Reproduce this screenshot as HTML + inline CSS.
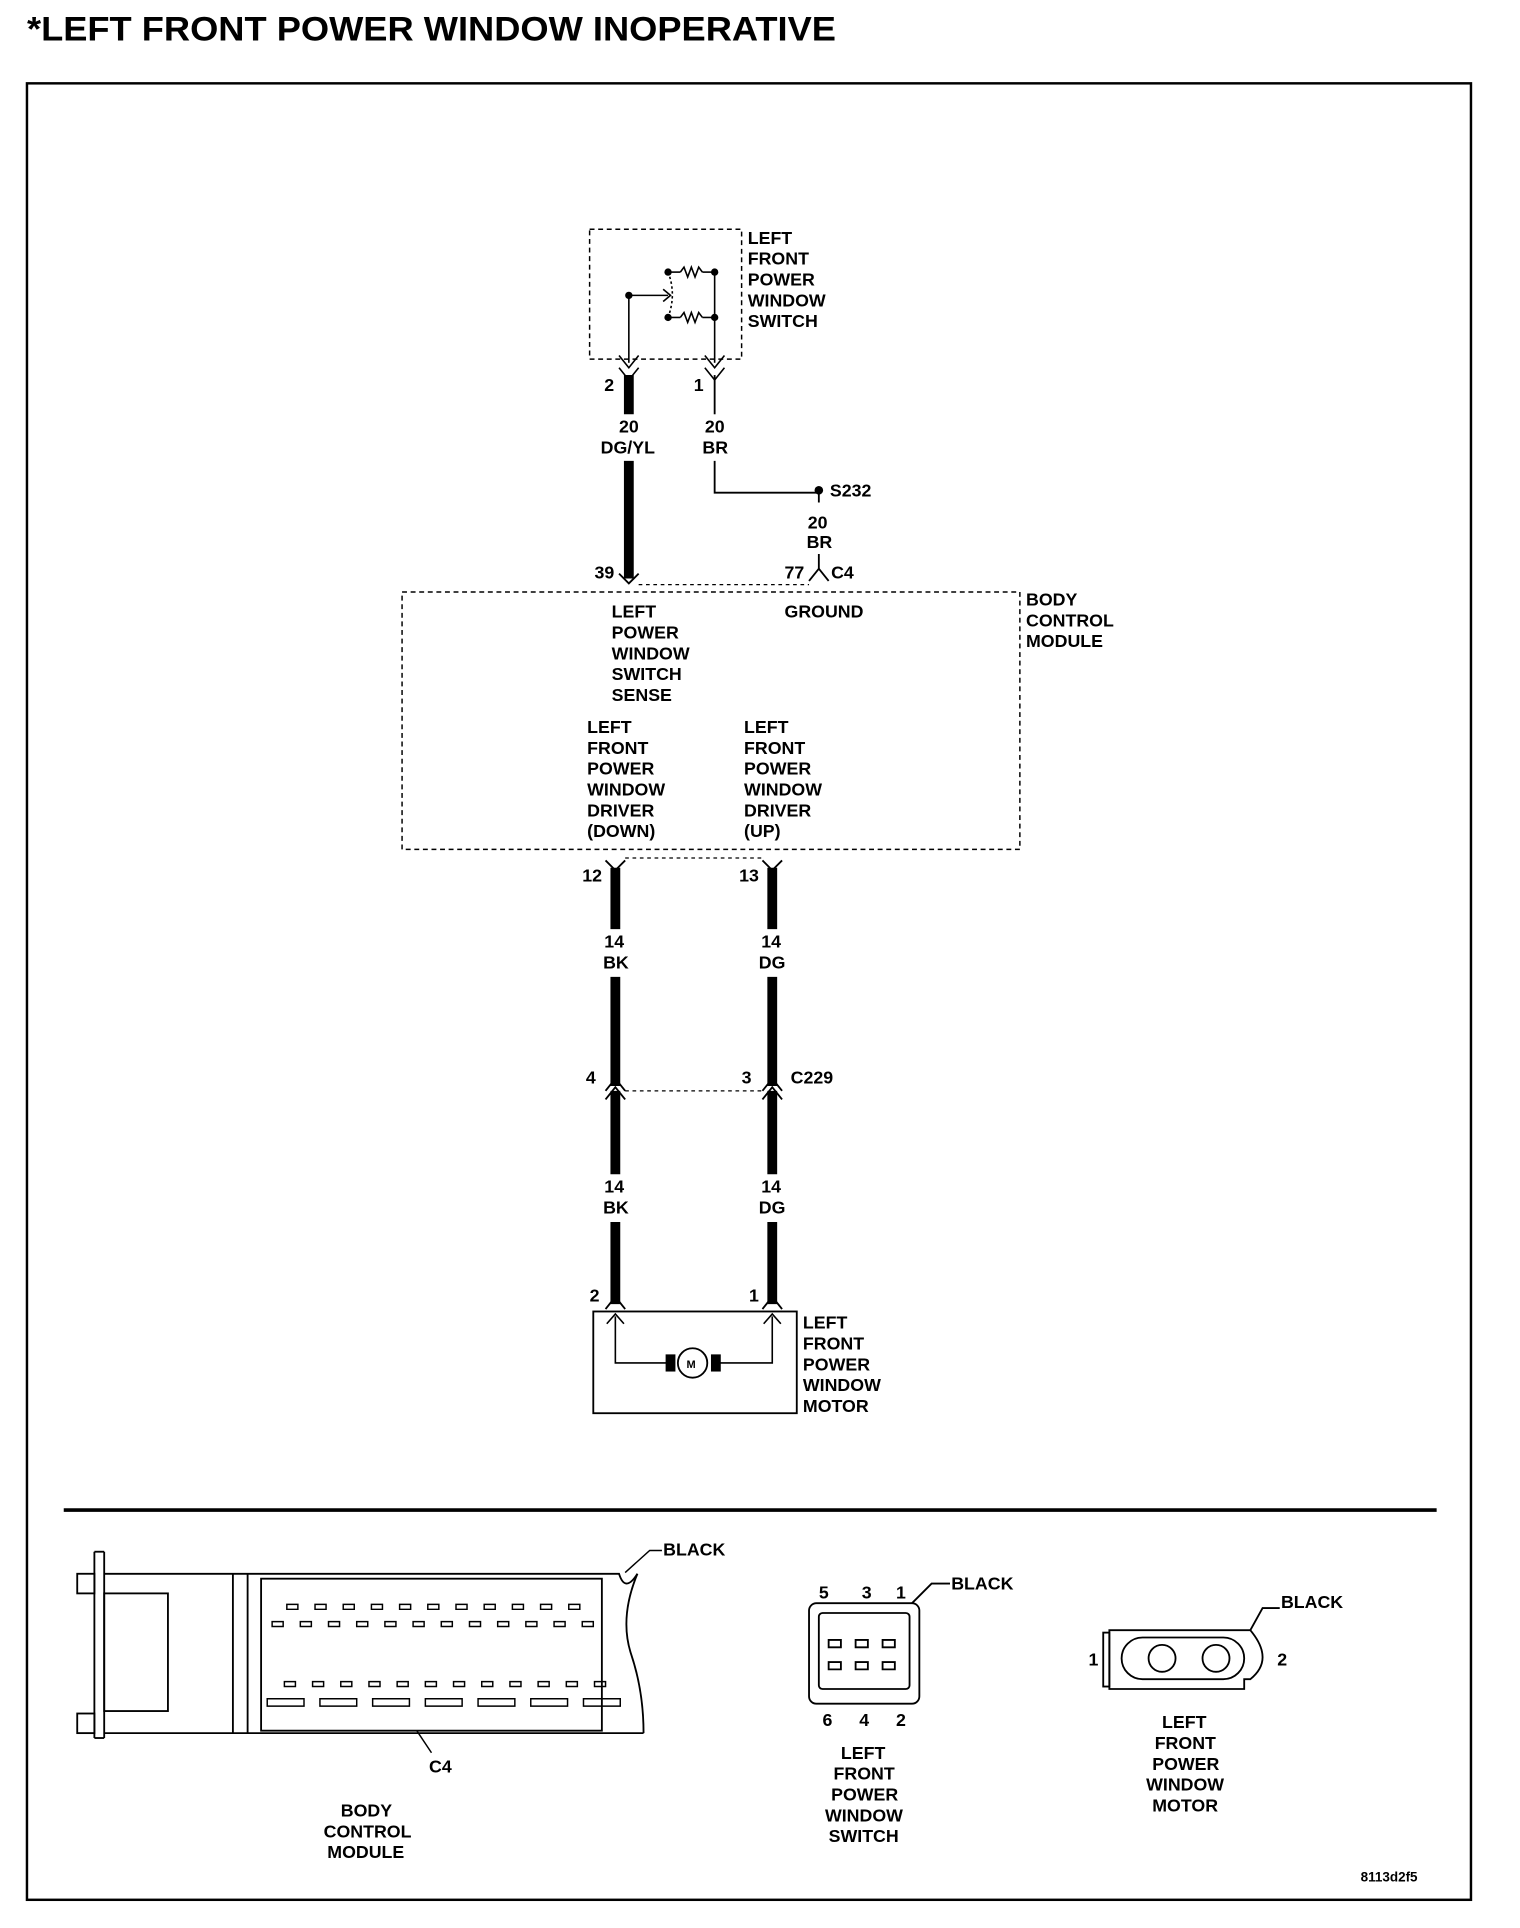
<!DOCTYPE html>
<html><head><style>html,body{margin:0;padding:0;background:#fff}svg{display:block}text{font-family:"Liberation Sans",sans-serif;font-weight:bold;fill:#000}</style></head>
<body>
<svg width="1520" height="1928" viewBox="0 0 1240 1573" preserveAspectRatio="none" xmlns="http://www.w3.org/2000/svg">
<rect width="1240" height="1573" fill="#fff"/>
<text x="22" y="33" font-size="28" font-weight="bold" textLength="660" lengthAdjust="spacingAndGlyphs">*LEFT FRONT POWER WINDOW INOPERATIVE</text>
<rect x="22" y="68" width="1178" height="1482" fill="none" stroke="#000" stroke-width="2"/>
<g font-size="14.5">
<rect x="481" y="187" width="124" height="106" fill="none" stroke="#000" stroke-width="1.2" stroke-dasharray="4,3"/>
<text x="610" y="199">LEFT</text><text x="610" y="216">FRONT</text><text x="610" y="233">POWER</text><text x="610" y="250">WINDOW</text><text x="610" y="267">SWITCH</text>
<g stroke="#000" stroke-width="1.3" fill="none">
<line x1="513" y1="241" x2="513" y2="296"/><line x1="513" y1="241" x2="545" y2="241"/>
<path d="M541 236 L547 241 L541 246"/>
<line x1="545" y1="222" x2="555" y2="222"/><path d="M555 222 l3 -4 l3 8 l3 -8 l3 8 l3 -8 l3 4"/><line x1="573" y1="222" x2="583" y2="222"/>
<line x1="545" y1="259" x2="555" y2="259"/><path d="M555 259 l3 -4 l3 8 l3 -8 l3 8 l3 -8 l3 4"/><line x1="573" y1="259" x2="583" y2="259"/>
<line x1="583" y1="222" x2="583" y2="296"/>
<path d="M545 222 Q552 240 545 259" stroke-dasharray="2,2"/>
<path d="M505 290 L513 300 L521 290"/><path d="M575 290 L583 300 L591 290"/>
<path d="M505 300 L513 310 L521 300"/><path d="M575 300 L583 310 L591 300"/>
</g>
<circle cx="513" cy="241" r="3"/><circle cx="545" cy="222" r="3"/><circle cx="545" cy="259" r="3"/><circle cx="583" cy="222" r="3"/><circle cx="583" cy="259" r="3"/>
<text x="493" y="319">2</text><text x="566" y="319">1</text>
<line x1="513" y1="306" x2="513" y2="338" stroke="#000" stroke-width="8"/>
<line x1="513" y1="376" x2="513" y2="472" stroke="#000" stroke-width="8"/>
<line x1="583" y1="306" x2="583" y2="338" stroke="#000" stroke-width="1.5"/>
<polyline points="583,376 583,402 668,402 668,410" fill="none" stroke="#000" stroke-width="1.5"/>
<line x1="668" y1="452" x2="668" y2="464" stroke="#000" stroke-width="1.5"/>
<circle cx="668" cy="400" r="3.5"/>
<text x="505" y="353">20</text><text x="490" y="370">DG/YL</text>
<text x="575" y="353">20</text><text x="573" y="370">BR</text>
<text x="677" y="405">S232</text><text x="659" y="431">20</text><text x="658" y="447">BR</text>
<path d="M505 468 L513 476 L521 468" stroke="#000" fill="none" stroke-width="1.5"/>
<path d="M660 474 L668 464 L676 474" stroke="#000" fill="none" stroke-width="1.5"/>
<line x1="521" y1="477" x2="660" y2="477" stroke="#000" stroke-dasharray="3,3"/>
<text x="485" y="472">39</text><text x="640" y="472">77</text><text x="678" y="472">C4</text>
<rect x="328" y="483" width="504" height="210" fill="none" stroke="#000" stroke-width="1.2" stroke-dasharray="4,3"/>
<text x="837" y="494">BODY</text><text x="837" y="511">CONTROL</text><text x="837" y="528">MODULE</text>
<text x="499" y="504">LEFT</text><text x="499" y="521">POWER</text><text x="499" y="538">WINDOW</text><text x="499" y="555">SWITCH</text><text x="499" y="572">SENSE</text>
<text x="640" y="504">GROUND</text>
<text x="479" y="598">LEFT</text><text x="479" y="615">FRONT</text><text x="479" y="632">POWER</text><text x="479" y="649">WINDOW</text><text x="479" y="666">DRIVER</text><text x="479" y="683">(DOWN)</text>
<text x="607" y="598">LEFT</text><text x="607" y="615">FRONT</text><text x="607" y="632">POWER</text><text x="607" y="649">WINDOW</text><text x="607" y="666">DRIVER</text><text x="607" y="683">(UP)</text>
<g stroke="#000" fill="none" stroke-width="1.5">
<path d="M494 702 L502 710 L510 702"/><path d="M622 702 L630 710 L638 702"/>
<line x1="510" y1="700" x2="622" y2="700" stroke-dasharray="3,3" stroke-width="1"/>
<path d="M494 890 L502 880 L510 890"/><path d="M622 890 L630 880 L638 890"/>
<path d="M494 897 L502 887 L510 897"/><path d="M622 897 L630 887 L638 897"/>
<line x1="510" y1="890" x2="622" y2="890" stroke-dasharray="3,3" stroke-width="1"/>
<path d="M494 1068 L502 1058 L510 1068"/><path d="M622 1068 L630 1058 L638 1068"/>
</g>
<g stroke="#000" stroke-width="8">
<line x1="502" y1="708" x2="502" y2="758"/><line x1="502" y1="797" x2="502" y2="886"/>
<line x1="630" y1="708" x2="630" y2="758"/><line x1="630" y1="797" x2="630" y2="886"/>
<line x1="502" y1="890" x2="502" y2="958"/><line x1="502" y1="997" x2="502" y2="1064"/>
<line x1="630" y1="890" x2="630" y2="958"/><line x1="630" y1="997" x2="630" y2="1064"/>
</g>
<text x="475" y="719">12</text><text x="603" y="719">13</text>
<text x="493" y="773">14</text><text x="492" y="790">BK</text><text x="621" y="773">14</text><text x="619" y="790">DG</text>
<text x="478" y="884">4</text><text x="605" y="884">3</text><text x="645" y="884">C229</text>
<text x="493" y="973">14</text><text x="492" y="990">BK</text><text x="621" y="973">14</text><text x="619" y="990">DG</text>
<text x="481" y="1062">2</text><text x="611" y="1062">1</text>
<rect x="484" y="1070" width="166" height="83" fill="none" stroke="#000" stroke-width="1.5"/>
<g stroke="#000" fill="none" stroke-width="1.3">
<path d="M495 1080 L502 1072 L509 1080"/><path d="M623 1080 L630 1072 L637 1080"/>
<polyline points="502,1074 502,1112 545,1112"/><polyline points="630,1074 630,1112 586,1112"/>
</g>
<rect x="543" y="1105" width="8" height="14"/><rect x="580" y="1105" width="8" height="14"/>
<circle cx="565" cy="1112" r="12" fill="#fff" stroke="#000" stroke-width="1.5"/>
<text x="560" y="1116" font-size="9">M</text>
<text x="655" y="1084">LEFT</text><text x="655" y="1101">FRONT</text><text x="655" y="1118">POWER</text><text x="655" y="1135">WINDOW</text><text x="655" y="1152">MOTOR</text>
<line x1="52" y1="1232" x2="1172" y2="1232" stroke="#000" stroke-width="3"/>
<g stroke="#000" fill="none" stroke-width="1.5">
<rect x="63" y="1284" width="14" height="16"/><rect x="63" y="1398" width="14" height="16"/>
<line x1="77" y1="1266" x2="77" y2="1418"/><line x1="85" y1="1266" x2="85" y2="1418"/><line x1="77" y1="1266" x2="85" y2="1266"/><line x1="77" y1="1418" x2="85" y2="1418"/>
<rect x="85" y="1300" width="52" height="96"/>
<path d="M85 1284 L505 1284 Q510 1300 520 1284"/>
<path d="M85 1414 L525 1414"/>
<path d="M520 1284 Q505 1320 515 1350 Q525 1380 525 1414"/>
<line x1="190" y1="1284" x2="190" y2="1414"/><line x1="202" y1="1284" x2="202" y2="1414"/>
<rect x="213" y="1288" width="278" height="124"/>
</g>
<g fill="none" stroke="#000" stroke-width="1.2">
<path d="M234 1309h9v4h-9z M257 1309h9v4h-9z M280 1309h9v4h-9z M303 1309h9v4h-9z M326 1309h9v4h-9z M349 1309h9v4h-9z M372 1309h9v4h-9z M395 1309h9v4h-9z M418 1309h9v4h-9z M441 1309h9v4h-9z M464 1309h9v4h-9z"/>
<path d="M222 1323h9v4h-9z M245 1323h9v4h-9z M268 1323h9v4h-9z M291 1323h9v4h-9z M314 1323h9v4h-9z M337 1323h9v4h-9z M360 1323h9v4h-9z M383 1323h9v4h-9z M406 1323h9v4h-9z M429 1323h9v4h-9z M452 1323h9v4h-9z M475 1323h9v4h-9z"/>
<path d="M232 1372h9v4h-9z M255 1372h9v4h-9z M278 1372h9v4h-9z M301 1372h9v4h-9z M324 1372h9v4h-9z M347 1372h9v4h-9z M370 1372h9v4h-9z M393 1372h9v4h-9z M416 1372h9v4h-9z M439 1372h9v4h-9z M462 1372h9v4h-9z M485 1372h9v4h-9z"/>
<path d="M218 1386h30v6h-30z M261 1386h30v6h-30z M304 1386h30v6h-30z M347 1386h30v6h-30z M390 1386h30v6h-30z M433 1386h30v6h-30z M476 1386h30v6h-30z"/>
<polyline points="510,1283 530,1265 540,1265"/><polyline points="340,1412 352,1430"/>
</g>
<text x="541" y="1269">BLACK</text><text x="350" y="1446">C4</text>
<text x="278" y="1482">BODY</text><text x="264" y="1499">CONTROL</text><text x="267" y="1516">MODULE</text>
<g fill="none" stroke="#000" stroke-width="1.5">
<rect x="660" y="1308" width="90" height="82" rx="6"/><rect x="668" y="1316" width="74" height="62" rx="3"/>
<path d="M676 1338h10v6h-10z M698 1338h10v6h-10z M720 1338h10v6h-10z M676 1356h10v6h-10z M698 1356h10v6h-10z M720 1356h10v6h-10z"/>
<polyline points="744,1308 760,1292 775,1292"/>
</g>
<text x="668" y="1304">5</text><text x="703" y="1304">3</text><text x="731" y="1304">1</text>
<text x="776" y="1297">BLACK</text>
<text x="671" y="1408">6</text><text x="701" y="1408">4</text><text x="731" y="1408">2</text>
<text x="686" y="1435">LEFT</text><text x="680" y="1452">FRONT</text><text x="678" y="1469">POWER</text><text x="673" y="1486">WINDOW</text><text x="676" y="1503">SWITCH</text>
<g fill="none" stroke="#000" stroke-width="1.5">
<path d="M905 1330 L905 1378 L1015 1378 L1015 1370 L1020 1370 Q1040 1354 1020 1330 Z"/>
<rect x="900" y="1332" width="5" height="44"/>
<rect x="915" y="1336" width="100" height="34" rx="17"/>
<circle cx="948" cy="1353" r="11"/><circle cx="992" cy="1353" r="11"/>
<polyline points="1020,1330 1030,1312 1044,1312"/>
</g>
<text x="888" y="1359">1</text><text x="1042" y="1359">2</text>
<text x="1045" y="1312">BLACK</text>
<text x="948" y="1410">LEFT</text><text x="942" y="1427">FRONT</text><text x="940" y="1444">POWER</text><text x="935" y="1461">WINDOW</text><text x="940" y="1478">MOTOR</text>
<text x="1110" y="1535" font-size="11">8113d2f5</text>
</g>
</svg>
</body></html>
